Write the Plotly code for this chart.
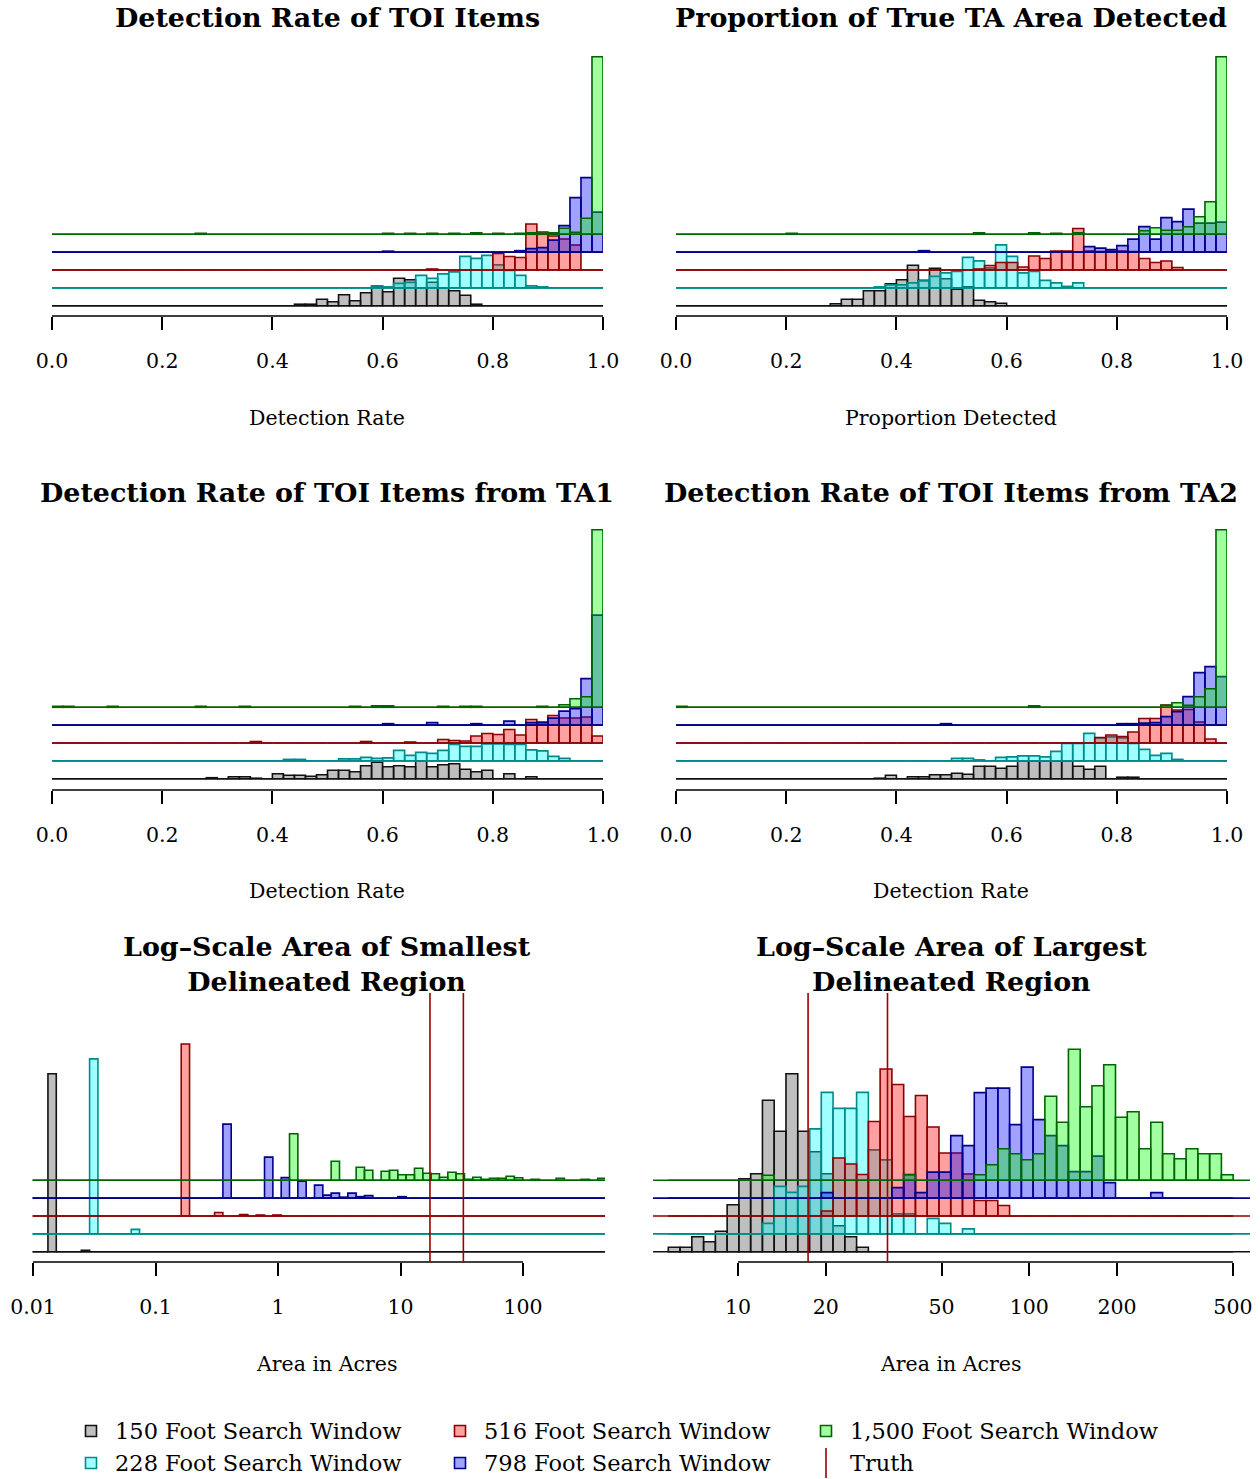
import numpy as np
import plotly.graph_objects as go

W, H = 1260, 1479
FONT = "DejaVu Serif"

SERIES = ["150 Foot Search Window", "228 Foot Search Window", "516 Foot Search Window",
          "798 Foot Search Window", "1,500 Foot Search Window"]
FILL = ["rgba(128,128,128,0.5)", "rgba(0,255,255,0.37)", "rgba(255,0,0,0.37)",
        "rgba(0,0,255,0.37)", "rgba(0,255,0,0.37)"]
EDGE = ["#111111", "#008b8b", "#8b0000", "#00008b", "#006400"]
TRUTH_COLOR = "#990000"
STEP = 17.85  # vertical offset between stacked histograms

# ---------------- data: bin heights (frequency units) ----------------
# 50 bins of width 0.02 on [0, 1]
P1_150 = [0,0,0,0,0,0,0,0,0,0, 0,0,0,0,0,0,0,0,0,0, 0,0,1.5,1.5,6.5,4,11,5,13,19.5,
          14,27.5,26,18,23.5,18,15,10.5,1.5,0, 0,0,0,0,0,0,0,0,0,0]
P1_228 = [0,0,0,0,0,0,0,0,0,0, 0,0,0,0,0,0,0,0,0,0, 0,0,0,0,0,0,0,0,0,2,
          1,4.5,5.5,12.5,9.5,14,16,31.5,29.5,32.5, 23,17.5,12.5,2,1,0,0,0,0,0]
P1_516 = [0,0,0,0,0,0,0,0,0,0, 0,0,0,0,0,0,0,0,0,0, 0,0,0,0,0,0,0,0,0,0,
          0,0,0,0,1,0,0,0,0,0, 16.5,13.5,12.5,46,38,34,31,25,0,0]
P1_798 = [0,0,0,0,0,0,0,0,0,0, 0,0,0,0,0,0,0,0,0,0, 0,0,0,0,0,0,0,0,0,0,
          1,0,0,0,0,0,0,0,0,0, 0,0,1.5,3.5,4.5,12,26.5,54.5,74.5,40]
P1_1500 = [0,0,0,0,0,0,0,0,0,0, 0,0,0,1,0,0,0,0,0,0, 0,0,0,0,0,0,0,0,0,0,
           1,0,1,0,1,0,1,0,1.5,0, 1,0,1,1.5,1,1.5,6,2,16,177.5]

P2_150 = [0,0,0,0,0,0,0,0,0,0, 0,0,0,0,2,6.5,6.5,15,15,22, 26,40.5,25.5,37.5,27,16.5,19,5.5,4,2.5,
          0,0,0,0,0,0,0,0,0,0, 0,0,0,0,0,0,0,0,0,0]
P2_228 = [0,0,0,0,0,0,0,0,0,0, 0,0,0,0,0,0,0,0,1,3, 3,5,7,11.5,15,16.5,30.5,27,20,43,
          31.5,15,16.5,7.5,5,1.5,5,0,0,0, 0,0,0,0,0,0,0,0,0,0]
P2_516 = [0,0,0,0,0,0,0,0,0,0, 0,0,0,0,0,0,0,0,0,0, 0,0,0,0,0,0,0,1,4.5,7.5,
          7.5,3,14,11.5,19,19,41.5,19,18.5,19, 19,18.5,11.5,7.5,9,2.5,0,0,0,0]
P2_798 = [0,0,0,0,0,0,0,0,0,0, 0,0,0,0,0,0,0,0,0,0, 0,0,1.5,0,0,0,0,0,0,0,
          0,0,0,0,0,0,0,5.5,4,2.5, 6.5,13,25.5,13,34.5,30.5,43,29,29,30]
P2_1500 = [0,0,0,0,0,0,0,0,0,0, 1,0,0,0,0,0,0,0,0,0, 0,0,0,0,0,0,0,1.5,0,0,
           0,0,1.5,0,1,0,1.5,0,0,0, 0,0,3.5,6.5,4,4,7.5,17.5,32.5,177.5]

P3_150 = [0,0,0,0,0,0,0,0,0,0, 0,0,0,0,1,0,2,2,0.5,0, 5,3.5,3.5,2.5,4,8.5,8.5,7,13,16.5,
          12,13,12,18,12,14,15,9.5,7,8.5, 0,5,0,2,0,0,0,0,0,0]
P3_228 = [0,0,0,0,0,0,0,0,0,0, 0,0,0,0,0,0,0,0,0,0, 0,1.5,1.5,0,0,0,2,2,3.5,2.5,
          3,10.5,5.5,8.5,7.5,10.5,16.5,14.5,14.5,17, 17,16.5,16.5,11,10,4.5,2.5,0,0,0]
P3_516 = [0,0,0,0,0,0,0,0,0,0, 0,0,0,0,0,0,0,0,1.5,0, 0,0,0,0,0,0,0,0,1.5,0,
          0,0,1,0,0,3.5,2.5,2,7,9.5, 8.5,13.5,8,23.5,21,27.5,25,25,26,7]
P3_798 = [0,0,0,0,0,0,0,0,0,0, 0,0,0,0,0,0,0,0,0,0, 0,0,0,0,0,0,0,0,0,0,
          1.5,0,0,0,2.5,0,0,0,1.5,0, 0,4,0,2.5,2.5,7,14,16.5,46.5,110]
P3_1500 = [1,1,0,0,0,1,0,0,0,0, 0,0,0,1,0,0,0,1,0,0, 0,0,0,0,0,0,0,1,0,1.5,
           1.5,0,0,0,0,1,0,1,1,0, 0,0,0,0,1,0,2.5,8.5,10.5,177.5]

P4_150 = [0,0,0,0,0,0,0,0,0,0, 0,0,0,0,0,0,0,0,0.5,3.5, 0,2,2,4,4,5.5,4.5,12.5,12.5,10.5,
          12.5,17.5,17.5,17.5,17.5,17.5,12.5,9.5,12.5,0, 1.5,1.5,0,0,0,0,0,0,0,0]
P4_228 = [0,0,0,0,0,0,0,0,0,0, 0,0,0,0,0,0,0,0,0,0, 0,0,0,0,0,2.5,2.5,1,0,3.5,
          4,5,5,4,9.5,17.5,17.5,27.5,23,24, 23,17.5,11.5,5.5,7.5,1.5,0,0,0,0]
P4_516 = [0,0,0,0,0,0,0,0,0,0, 0,0,0,0,0,0,0,0,0,0, 0,0,0,0,0,0,0,0,0,0,
          0,0,0,0,0,0,0,0,5.5,8, 6.5,11,24.5,24.5,38,33,33.5,21,4,0]
P4_798 = [0,0,0,0,0,0,0,0,0,0, 0,0,0,0,0,0,0,0,0,0, 0,0,0,0,1.5,0,0,0,0,0,
          0,0,0,0,0,0,0,0,0,0, 1.5,1.5,2,2.5,8.5,13.5,28.5,52.5,58.5,48.5]
P4_1500 = [1,0,0,0,0,0,0,0,0,0, 0,0,0,0,0,0,0,0,0,0, 0,0,0,0,0,0,0,0,0,0,
           0,0,1.5,0,0,0,0,0,0,0, 0,0,0,0,2,4.5,2,10.5,18.5,177.5]

# 69 log-spaced bins (log10 acres), smallest delineated region
P5_150 = [0,0,178,0,0,0,1.5,0,0,0, 0,0,0,0,0,0,0,0,0,0, 0,0,0,0,0,0,0,0,0,0,
          0,0,0,0,0,0,0,0,0,0, 0,0,0,0,0,0,0,0,0,0, 0,0,0,0,0,0,0,0,0,0, 0,0,0,0,0,0,0,0,0]
P5_228 = [0,0,0,0,0,0,0,175,0,0, 0,0,4.5,0,0,0,0,0,0,0, 0,0,0,0,0,0,0,0,0,0,
          0,0,0,0,0,0,0,0,0,0, 0,0,0,0,0,0,0,0,0,0, 0,0,0,0,0,0,0,0,0,0, 0,0,0,0,0,0,0,0,0]
P5_516 = [0,0,0,0,0,0,0,0,0,0, 0,0,0,0,0,0,0,0,172,0, 0,0,3.5,0,0,1.5,0,1,0,1,
          0,0,0,0,0,0,0,0,0,0, 0,0,0,0,0,0,0,0,0,0, 0,0,0,0,0,0,0,0,0,0, 0,0,0,0,0,0,0,0,0]
P5_798 = [0,0,0,0,0,0,0,0,0,0, 0,0,0,0,0,0,0,0,0,0, 0,0,0,74,0,0,0,0,41,0,
          20.5,0,17,0,13,3,5,1,5,1.5, 2.5,0,0,0,1.5,0,0,0,0,0, 0,0,0,0,0,0,0,0,0,0, 0,0,0,0,0,0,0,0,0]
P5_1500 = [0,0,0,0,0,0,0,0,0,0, 0,0,0,0,0,0,0,0,0,0, 0,0,0,0,0,0,0,0,0,0,
           0,46.5,0,0,0,0,19,0,0,13, 10,0,9,10,5.5,5.5,12,7,6.5,3, 8,6.5,1,3,1,2,2,4,2.5,0, 1,0,0,2,0,0,1,0,2]

# 48 log-spaced bins (log10 acres), largest delineated region
P6_150 = [4.5,4.5,15,10,20.5,47,73,78,151.5,120.5, 178,120.5,100,78,26,15,4.5,0,0,0,
          0,0,0,0,0,0,0,0,0,0, 0,0,0,0,0,0,0,0,0,0, 0,0,0,0,0,0,0,0]
P6_228 = [0,0,0,0,0,0,0,0,10.5,47.5, 41.5,47.5,105,141.5,125.5,125.5,141.5,84,74,20,
          20,0,15.5,10.5,0,5,0,0,0,0, 0,0,0,0,0,0,0,0,0,0, 0,0,0,0,0,0,0,0]
P6_516 = [0,0,0,0,0,0,0,0,0,0, 0,0,0,5,58,52,41.5,94.5,147,131.5,
          99.5,120.5,89,63,63,42,15.5,15.5,10.5,0, 0,0,0,0,0,0,0,0,0,0, 0,0,0,0,0,0,0,0]
P6_798 = [0,0,0,0,0,0,0,0,0,0, 0,0,0,5.5,0,0,0,0,0,10.5,
          23.5,5.5,26,26,62.5,52.5,105.5,110,110,73.5, 131,78.5,62.5,52.5,26.5,26.5,42,15.5,0,0,
          0,5.5,0,0,0,0,0,0]
P6_1500 = [0,0,0,0,0,0,0,0,5,0, 0,0,0,0,0,0,0,0,0,0,
           5.5,0,0,0,0,0,5.5,15.5,31.5,26.5, 20.5,26.5,84,58,131,73.5,94.5,115.5,63,68.5,
           31.5,58,26.5,21.5,31.5,26.5,26.5,5.5]

TRUTH_ACRES = [17.4, 32.6]

RATE_TICKS = [0, 0.2, 0.4, 0.6, 0.8, 1.0]
RATE_TICKTEXT = ["0.0", "0.2", "0.4", "0.6", "0.8", "1.0"]
SMALL_TICKS = [0.01, 0.1, 1, 10, 100]
SMALL_TICKTEXT = ["0.01", "0.1", "1", "10", "100"]
LARGE_TICKS = [10, 20, 50, 100, 200, 500]
LARGE_TICKTEXT = ["10", "20", "50", "100", "200", "500"]

TITLES = ["Detection Rate of TOI Items", "Proportion of True TA Area Detected",
          "Detection Rate of TOI Items from TA1", "Detection Rate of TOI Items from TA2",
          "Log\u2013Scale Area of Smallest<br>Delineated Region",
          "Log\u2013Scale Area of Largest<br>Delineated Region"]
XLABELS = ["Detection Rate", "Proportion Detected", "Detection Rate", "Detection Rate",
           "Area in Acres", "Area in Acres"]

# ---------------- bins ----------------
RATE_EDGES = np.linspace(0.0, 1.0, 51)
SMALL_EDGES = 0.094 + 0.068 * np.arange(-31, 39)      # log10 acres
LARGE_EDGES = 0.7607 + 0.0404 * np.arange(0, 49)      # log10 acres

# ---------------- layout geometry (pixels) ----------------
ROWS = [dict(ytop=40, ybot=316, base=305.7, title_y=18, label_y=418),
        dict(ytop=515, ybot=790, base=778.7, title_y=492, label_y=891),
        dict(ytop=993, ybot=1262, base=1251.7, title_y=964, label_y=1364)]

PANELS = [
    dict(row=0, xpx=(52, 603), rng=(0, 1), edges=RATE_EDGES, log=False,
         data=[P1_150, P1_228, P1_516, P1_798, P1_1500], ticks=RATE_TICKS, tt=RATE_TICKTEXT, cx=327),
    dict(row=0, xpx=(676, 1227), rng=(0, 1), edges=RATE_EDGES, log=False,
         data=[P2_150, P2_228, P2_516, P2_798, P2_1500], ticks=RATE_TICKS, tt=RATE_TICKTEXT, cx=951),
    dict(row=1, xpx=(52, 603), rng=(0, 1), edges=RATE_EDGES, log=False,
         data=[P3_150, P3_228, P3_516, P3_798, P3_1500], ticks=RATE_TICKS, tt=RATE_TICKTEXT, cx=327),
    dict(row=1, xpx=(676, 1227), rng=(0, 1), edges=RATE_EDGES, log=False,
         data=[P4_150, P4_228, P4_516, P4_798, P4_1500], ticks=RATE_TICKS, tt=RATE_TICKTEXT, cx=951),
    dict(row=2, xpx=(32.5, 605), rng=(-2 - 0.5 / 122.5, -2 + 572 / 122.5), edges=SMALL_EDGES, log=True,
         data=[P5_150, P5_228, P5_516, P5_798, P5_1500], ticks=SMALL_TICKS, tt=SMALL_TICKTEXT, cx=327),
    dict(row=2, xpx=(653, 1250), rng=(1 - 85 / 291.3, 1 + 512 / 291.3), edges=LARGE_EDGES, log=True,
         data=[P6_150, P6_228, P6_516, P6_798, P6_1500], ticks=LARGE_TICKS, tt=LARGE_TICKTEXT, cx=951),
]

fig = go.Figure()
shapes, annotations = [], []
layout = {}

for p_i, P in enumerate(PANELS):
    n = p_i + 1
    xa = "x" if n == 1 else f"x{n}"
    ya = "y" if n == 1 else f"y{n}"
    R = ROWS[P["row"]]
    x0, x1 = P["xpx"]
    edges = np.asarray(P["edges"])
    centers = (edges[:-1] + edges[1:]) / 2
    width = edges[1] - edges[0]
    for s in range(5):
        off = s * STEP
        fig.add_trace(go.Scatter(x=list(P["rng"]), y=[off, off], mode="lines",
                                 line=dict(color=EDGE[s], width=1.6), hoverinfo="skip",
                                 xaxis=xa, yaxis=ya, showlegend=False))
        fig.add_trace(go.Bar(x=centers, y=P["data"][s], base=off, width=width,
                             marker=dict(color=FILL[s], line=dict(color=EDGE[s], width=1.6)),
                             xaxis=xa, yaxis=ya, showlegend=False, name=SERIES[s]))
    tickvals = list(np.log10(P["ticks"])) if P["log"] else P["ticks"]
    layout[f"xaxis{'' if n == 1 else n}"] = dict(
        domain=[x0 / W, x1 / W], range=list(P["rng"]), anchor=ya, automargin=False,
        showgrid=False, zeroline=False, showline=False,
        tickmode="array", tickvals=tickvals, ticktext=P["tt"],
        ticks="outside", ticklen=13, tickwidth=1.6, tickcolor="black",
        ticklabelstandoff=13,
        tickfont=dict(family=FONT, size=20.5, color="black"), fixedrange=True)
    layout[f"yaxis{'' if n == 1 else n}"] = dict(
        domain=[1 - R["ybot"] / H, 1 - R["ytop"] / H],
        range=[-(R["ybot"] - R["base"]), R["base"] - R["ytop"]],
        anchor=xa, visible=False, fixedrange=True, automargin=False)
    # axis line from first to last tick
    shapes.append(dict(type="line", xref=xa, yref=f"{ya} domain", x0=tickvals[0], x1=tickvals[-1],
                       y0=0, y1=0, line=dict(color="black", width=1.6), layer="above"))
    # truth lines on the area panels
    if P["log"]:
        for t in TRUTH_ACRES:
            lt = float(np.log10(t))
            shapes.append(dict(type="line", xref=xa, yref=f"{ya} domain", x0=lt, x1=lt, y0=0, y1=1,
                               line=dict(color=TRUTH_COLOR, width=1.6), layer="above"))
    annotations.append(dict(text=f"<b>{TITLES[p_i]}</b>", x=P["cx"] / W, y=1 - R["title_y"] / H,
                            xref="paper", yref="paper", xanchor="center", yanchor="middle",
                            showarrow=False, font=dict(family=FONT, size=26.9, color="black")))
    annotations.append(dict(text=XLABELS[p_i], x=P["cx"] / W, y=1 - R["label_y"] / H,
                            xref="paper", yref="paper", xanchor="center", yanchor="middle",
                            showarrow=False, font=dict(family=FONT, size=20.5, color="black")))

# ---------------- legend (manual, 3 columns x 2 rows) ----------------
LEG_ITEMS = [(0, 91, 1431), (1, 91, 1463), (2, 460, 1431), (3, 460, 1463), (4, 826, 1431)]
for s, cx, cy in LEG_ITEMS:
    shapes.append(dict(type="rect", xref="paper", yref="paper",
                       x0=(cx - 5.5) / W, x1=(cx + 5.5) / W, y0=1 - (cy + 5.5) / H, y1=1 - (cy - 5.5) / H,
                       fillcolor=FILL[s], line=dict(color=EDGE[s], width=1.6)))
    annotations.append(dict(text=SERIES[s], x=(cx + 22) / W, y=1 - cy / H, xref="paper", yref="paper",
                            xanchor="left", yanchor="middle", showarrow=False,
                            font=dict(family=FONT, size=22.5, color="black")))
shapes.append(dict(type="line", xref="paper", yref="paper", x0=826 / W, x1=826 / W,
                   y0=1 - 1478 / H, y1=1 - 1448 / H, line=dict(color=TRUTH_COLOR, width=1.6)))
annotations.append(dict(text="Truth", x=848 / W, y=1 - 1463 / H, xref="paper", yref="paper",
                        xanchor="left", yanchor="middle", showarrow=False,
                        font=dict(family=FONT, size=22.5, color="black")))

fig.update_layout(width=W, height=H, margin=dict(l=0, r=0, t=0, b=0, autoexpand=False),
                  paper_bgcolor="white", plot_bgcolor="white", barmode="overlay",
                  showlegend=False, shapes=shapes, annotations=annotations, **layout)

fig.write_html("out.html", config={"displayModeBar": False},
               post_script="document.body.style.margin='0';")
